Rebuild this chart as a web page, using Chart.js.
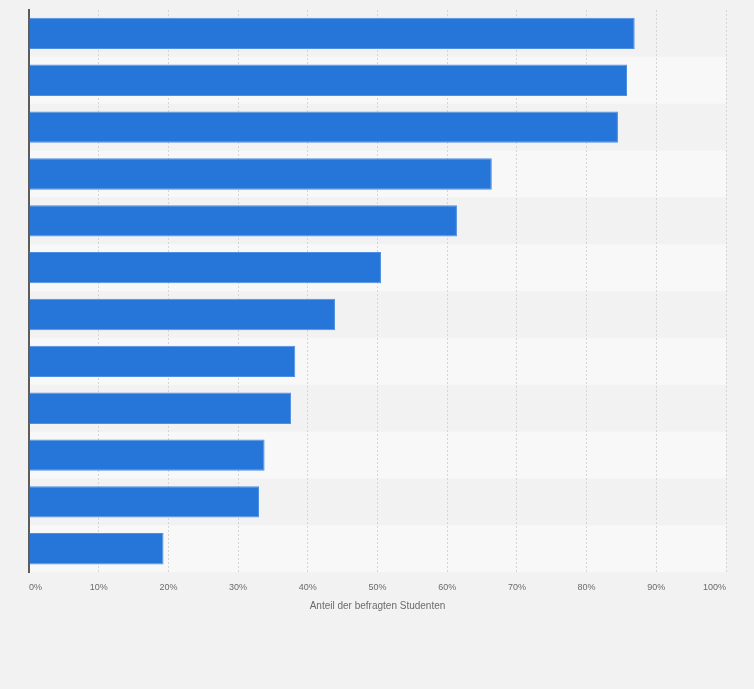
<!DOCTYPE html>
<html>
<head>
<meta charset="utf-8">
<script src="https://cdn.jsdelivr.net/npm/chart.js@4/dist/chart.umd.min.js"></script>
<style>
  html, body { margin: 0; padding: 0; background: #f2f2f2; }
  #wrap { width: 754px; height: 689px; }
</style>
</head>
<body>
<div id="wrap"><canvas id="chart"></canvas></div>
<script>
// Kategorien sind in der Vorlage nicht beschriftet
const categories = ['', '', '', '', '', '', '', '', '', '', '', ''];
const shares = [86.9, 85.8, 84.5, 66.4, 61.4, 50.5, 43.9, 38.2, 37.6, 33.8, 33.0, 19.3];
const tickValues = [0, 10, 20, 30, 40, 50, 60, 70, 80, 90, 100];
const axisTitle = 'Anteil der befragten Studenten';

const Colors = {
    bar: '#2676da',
    barBorder: '#4f8fe2',
    bandLight: '#f8f8f8',
    grid: '#d6d6d6',
    axis: '#5c5c5c',
    text: '#6b6b6b'
};

// alternating row bands, painted before grid and bars
const rowBands = {
    id: 'rowBands',
    beforeDraw(chart) {
        const { ctx, chartArea, scales } = chart;
        const y = scales.y;
        const step = (y.getPixelForValue(1) - y.getPixelForValue(0));
        ctx.save();
        ctx.fillStyle = Colors.bandLight;
        categories.forEach((c, i) => {
            if (i % 2 === 1) {
                const mid = y.getPixelForValue(i);
                ctx.fillRect(chartArea.left, mid - step / 2, chartArea.right - chartArea.left, step);
            }
        });
        ctx.restore();
    }
};

new Chart(document.getElementById('chart').getContext('2d'), {
    type: 'bar',
    data: {
        labels: categories,
        datasets: [{
            data: shares,
            backgroundColor: Colors.bar,
            borderColor: Colors.barBorder,
            borderWidth: 1,
            barPercentage: 0.67,
            categoryPercentage: 1
        }]
    },
    options: {
        indexAxis: 'y',
        responsive: true,
        maintainAspectRatio: false,
        animation: false,
        layout: { padding: { top: 10, left: 29, right: 28, bottom: 77 } },
        plugins: {
            legend: { display: false },
            tooltip: { enabled: false }
        },
        scales: {
            x: {
                min: 0,
                max: 100,
                afterBuildTicks: (scale) => { scale.ticks = tickValues.map(v => ({ value: v })); },
                grid: {
                    color: (c) => (c.tick && c.tick.value === 0) ? 'rgba(0,0,0,0)' : Colors.grid,
                    lineWidth: 1,
                    drawTicks: false
                },
                border: { display: false, dash: [2, 2] },
                ticks: {
                    align: 'inner',
                    padding: 10,
                    color: Colors.text,
                    font: { family: 'Liberation Sans, Arial, sans-serif', size: 9 },
                    callback: (v) => v + '%'
                },
                title: {
                    display: true,
                    text: axisTitle,
                    color: Colors.text,
                    padding: { top: -3, bottom: 0 },
                    font: { family: 'Liberation Sans, Arial, sans-serif', size: 10 }
                }
            },
            y: {
                grid: { display: false, drawTicks: false },
                border: { display: true, color: Colors.axis, width: 2 },
                ticks: { display: false }
            }
        }
    },
    plugins: [rowBands]
});
</script>
</body>
</html>
